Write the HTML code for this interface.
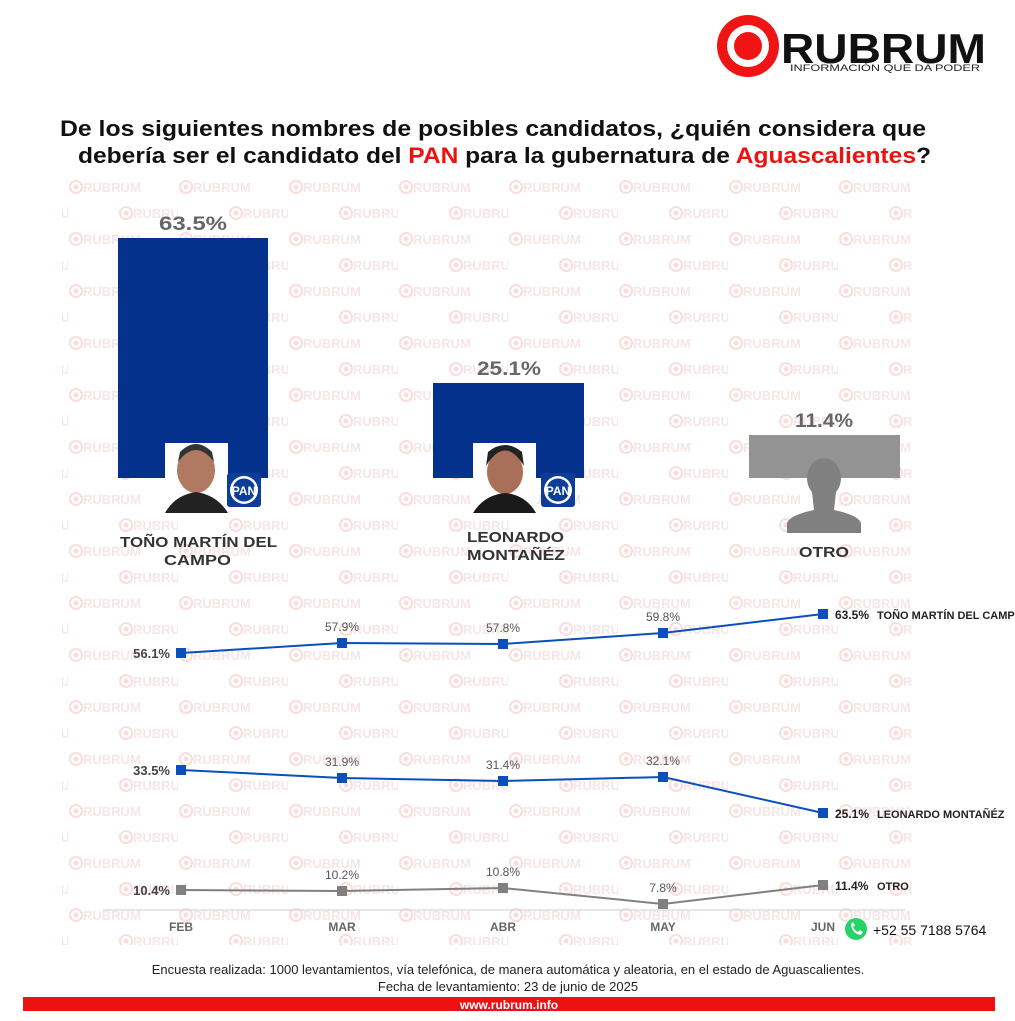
<!DOCTYPE html>
<html><head><meta charset="utf-8">
<style>
html,body{margin:0;padding:0;background:#fff;}
body{width:1015px;height:1021px;overflow:hidden;position:relative;font-family:"Liberation Sans",sans-serif;}
</style></head>
<body>
<svg width="1015" height="1021" viewBox="0 0 1015 1021" xmlns="http://www.w3.org/2000/svg" style="position:absolute;left:0;top:0">
<defs>
<pattern id="wm" x="68" y="175" width="110" height="52" patternUnits="userSpaceOnUse">
  <g fill="none" stroke="#fbdcdc" stroke-width="2"><circle cx="8" cy="12" r="6"/><circle cx="58" cy="38" r="6"/></g>
  <g fill="#fbdcdc"><circle cx="8" cy="12" r="2.5"/><circle cx="58" cy="38" r="2.5"/></g>
  <text x="15" y="17" font-family="Liberation Sans" font-weight="bold" font-size="13" fill="#f6e6e6">RUBRUM</text>
  <text x="65" y="43" font-family="Liberation Sans" font-weight="bold" font-size="13" fill="#f6e6e6">RUBRUM</text>
</pattern>
</defs>
<rect x="62" y="175" width="850" height="770" fill="url(#wm)"/>

<!-- logo -->
<circle cx="748" cy="46" r="31" fill="#f01414"/>
<circle cx="748" cy="46" r="21" fill="#fff"/>
<circle cx="748" cy="46" r="14" fill="#f01414"/>
<text x="781" y="63" font-family="Liberation Sans" font-weight="bold" font-size="42" fill="#111" textLength="205" lengthAdjust="spacingAndGlyphs">RUBRUM</text>
<text x="790" y="71" font-family="Liberation Sans" font-size="9" fill="#222" textLength="190" lengthAdjust="spacingAndGlyphs">INFORMACIÓN QUE DA PODER</text>

<!-- title -->
<text x="60" y="136" font-family="Liberation Sans" font-weight="bold" font-size="22" fill="#111" textLength="866" lengthAdjust="spacingAndGlyphs">De los siguientes nombres de posibles candidatos, ¿quién considera que</text>
<text x="78" y="163" font-family="Liberation Sans" font-weight="bold" font-size="22" fill="#111" textLength="853" lengthAdjust="spacingAndGlyphs">debería ser el candidato del <tspan fill="#ee1111">PAN</tspan> para la gubernatura de <tspan fill="#ee1111">Aguascalientes</tspan>?</text>

<!-- bars -->
<rect x="118" y="238" width="150" height="240" fill="#04318c"/>
<rect x="433" y="383" width="151" height="95" fill="#04318c"/>
<rect x="749" y="435" width="151" height="43" fill="#939393"/>
<g font-family="Liberation Sans" font-weight="bold" font-size="19" fill="#666">
<text x="159" y="230" textLength="68" lengthAdjust="spacingAndGlyphs">63.5%</text><text x="477" y="375" textLength="64" lengthAdjust="spacingAndGlyphs">25.1%</text><text x="795" y="427" textLength="58" lengthAdjust="spacingAndGlyphs">11.4%</text>
</g>
<!-- photos -->
<rect x="165" y="443" width="63" height="70" fill="#fff"/>
<ellipse cx="196" cy="470" rx="19" ry="23" fill="#b07a62"/>
<path d="M178 462 Q196 438 214 462 L212 452 Q196 436 180 452Z" fill="#333"/>
<path d="M165 513 Q175 495 196 492 Q217 495 228 513Z" fill="#222"/>
<rect x="227" y="473" width="34" height="34" rx="3" fill="#0b3d99"/>
<circle cx="244" cy="490" r="14" fill="#fff"/><circle cx="244" cy="490" r="11.5" fill="#0b3d99"/>
<text x="244" y="495" text-anchor="middle" font-family="Liberation Sans" font-weight="bold" font-size="12" fill="#fff">PAN</text>
<rect x="473" y="443" width="63" height="70" fill="#fff"/>
<ellipse cx="505" cy="472" rx="18" ry="22" fill="#a87058"/>
<path d="M486 466 Q505 435 524 466 L522 452 Q505 438 488 452Z" fill="#222"/>
<path d="M473 513 Q484 495 505 493 Q526 495 536 513Z" fill="#1a1a1a"/>
<rect x="541" y="473" width="34" height="34" rx="3" fill="#0b3d99"/>
<circle cx="558" cy="490" r="14" fill="#fff"/><circle cx="558" cy="490" r="11.5" fill="#0b3d99"/>
<text x="558" y="495" text-anchor="middle" font-family="Liberation Sans" font-weight="bold" font-size="12" fill="#fff">PAN</text>
<!-- silhouette -->
<ellipse cx="824" cy="478" rx="17" ry="20" fill="#808080"/>
<path d="M812 492 L836 492 L834 510 Q858 515 861 523 L861 533 L787 533 L787 523 Q790 515 814 510Z" fill="#808080"/>
<g font-family="Liberation Sans" font-weight="bold" font-size="15" fill="#333">
<text x="120" y="547" textLength="157" lengthAdjust="spacingAndGlyphs">TOÑO MARTÍN DEL</text><text x="164" y="565" textLength="67" lengthAdjust="spacingAndGlyphs">CAMPO</text>
<text x="467" y="542" textLength="97" lengthAdjust="spacingAndGlyphs">LEONARDO</text><text x="467" y="560" textLength="98" lengthAdjust="spacingAndGlyphs">MONTAÑÉZ</text>
<text x="799" y="557" textLength="50" lengthAdjust="spacingAndGlyphs">OTRO</text>
</g>

<!-- line chart -->
<line x1="103" y1="910" x2="905" y2="910" stroke="#ccc" stroke-width="1"/>
<polyline points="181,653 342,643 503,644 663,633 823,614" fill="none" stroke="#0a4fba" stroke-width="2"/>
<polyline points="181,770 342,778 503,781 663,777 823,813" fill="none" stroke="#0a4fba" stroke-width="2"/>
<polyline points="181,890 342,891 503,888 663,904 823,885" fill="none" stroke="#808080" stroke-width="2"/>
<g fill="#0a4fba">
<rect x="176" y="648" width="10" height="10"/><rect x="337" y="638" width="10" height="10"/><rect x="498" y="639" width="10" height="10"/><rect x="658" y="628" width="10" height="10"/><rect x="818" y="609" width="10" height="10"/>
<rect x="176" y="765" width="10" height="10"/><rect x="337" y="773" width="10" height="10"/><rect x="498" y="776" width="10" height="10"/><rect x="658" y="772" width="10" height="10"/><rect x="818" y="808" width="10" height="10"/>
</g>
<g fill="#808080">
<rect x="176" y="885" width="10" height="10"/><rect x="337" y="886" width="10" height="10"/><rect x="498" y="883" width="10" height="10"/><rect x="658" y="899" width="10" height="10"/><rect x="818" y="880" width="10" height="10"/>
</g>
<g font-family="Liberation Sans" font-size="12" fill="#555" text-anchor="middle">
<text x="342" y="631">57.9%</text><text x="503" y="632">57.8%</text><text x="663" y="621">59.8%</text>
<text x="342" y="766">31.9%</text><text x="503" y="769">31.4%</text><text x="663" y="765">32.1%</text>
<text x="342" y="879">10.2%</text><text x="503" y="876">10.8%</text><text x="663" y="892">7.8%</text>
</g>
<g font-family="Liberation Sans" font-weight="bold" font-size="13" fill="#444" text-anchor="end">
<text x="170" y="658">56.1%</text><text x="170" y="775">33.5%</text><text x="170" y="895">10.4%</text>
</g>
<g font-family="Liberation Sans" font-weight="bold" font-size="12" fill="#222">
<text x="835" y="619">63.5%</text><text x="877" y="619" font-size="11">TOÑO MARTÍN DEL CAMPO</text>
<text x="835" y="818">25.1%</text><text x="877" y="818" font-size="11">LEONARDO MONTAÑÉZ</text>
<text x="835" y="890">11.4%</text><text x="877" y="890" font-size="11">OTRO</text>
</g>
<g font-family="Liberation Sans" font-weight="bold" font-size="12" fill="#666" text-anchor="middle">
<text x="181" y="931">FEB</text><text x="342" y="931">MAR</text><text x="503" y="931">ABR</text><text x="663" y="931">MAY</text><text x="823" y="931">JUN</text>
</g>
<circle cx="856" cy="929" r="11" fill="#25d366"/>
<path d="M851 924 Q852 934 861 935 L863 932 L860 930 L858 932 Q854 930 853 927 L855 925 L853 922Z" fill="#fff"/>
<text x="873" y="935" font-family="Liberation Sans" font-size="14" fill="#111">+52 55 7188 5764</text>

<!-- footer -->
<text x="508" y="974" text-anchor="middle" font-family="Liberation Sans" font-size="13" fill="#222">Encuesta realizada: 1000 levantamientos, vía telefónica, de manera automática y aleatoria, en el estado de Aguascalientes.</text>
<text x="508" y="991" text-anchor="middle" font-family="Liberation Sans" font-size="13" fill="#222">Fecha de levantamiento: 23 de junio de 2025</text>
<rect x="23" y="997" width="972" height="14" fill="#ee1111"/>
<text x="509" y="1009" text-anchor="middle" font-family="Liberation Sans" font-weight="bold" font-size="12" fill="#fff">www.rubrum.info</text>
</svg>
</body></html>
